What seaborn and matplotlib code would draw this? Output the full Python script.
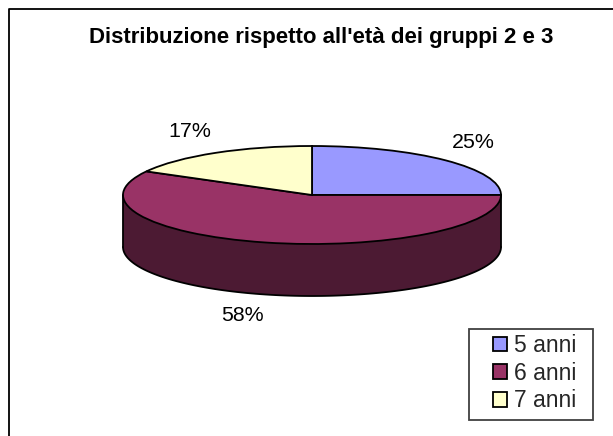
'''Tilted 3D-look pie: age distribution of groups 2 and 3'''
import numpy as np
import seaborn as sns
import matplotlib.pyplot as plt
from matplotlib.patches import Rectangle

labels = ['5 anni', '6 anni', '7 anni']
values = [25, 58, 17]
pct_labels = ['25%', '58%', '17%']
colors = ['#9999FF', '#993366', '#FFFFCC']
side_colors = ['#4D4D80', '#4C1A33', '#808066']
title = "Distribuzione rispetto all'età dei gruppi 2 e 3"

W, H = 613, 436
CX, CY, RX, RY, DEPTH = 312, 195, 189, 49, 52

sns.set_theme(style='white')
plt.rcParams['font.family'] = ['Liberation Sans', 'DejaVu Sans']

fig = plt.figure(figsize=(W / 100, H / 100), dpi=100)
fig.patch.set_facecolor('white')

# outer chart border, open at the bottom and right like the source
fig.add_artist(plt.Line2D([8.5 / W, 8.5 / W, 1], [0, 1 - 9.5 / H, 1 - 9.5 / H],
                          color='black', lw=1.3))

# axes in unit-circle coords, squashed to the ellipse
ax = fig.add_axes([(CX - RX) / W, 1 - (CY + RY) / H, 2 * RX / W, 2 * RY / H])
ax.set_axis_off()

# side wall: only the part of each slice in the lower half shows
d = DEPTH / RY
angle = 90.0
for val, side in zip(values, side_colors):
    end = angle - val * 3.6
    lo, hi = max(end, -180.0), min(angle, 0.0)
    if hi > lo:
        t = np.radians(np.linspace(lo, hi, 120))
        xs = np.r_[np.cos(t), np.cos(t[::-1])]
        ys = np.r_[np.sin(t), np.sin(t[::-1]) - d]
        ax.fill(xs, ys, color=side, clip_on=False, zorder=1, lw=0)
        ax.plot(np.cos(t), np.sin(t) - d, color='black', lw=1.3, clip_on=False, zorder=2)
    angle = end
ax.plot([-1, -1], [0, -d], color='black', lw=1.3, clip_on=False, zorder=2)
ax.plot([1, 1], [0, -d], color='black', lw=1.3, clip_on=False, zorder=2)

wedges, _ = ax.pie(values, colors=colors, startangle=90, counterclock=False,
                   radius=1, normalize=True,
                   wedgeprops={'edgecolor': 'black', 'linewidth': 1.3, 'zorder': 3})
ax.set_aspect('auto')
ax.set_xlim(-1, 1)
ax.set_ylim(-1, 1)
for w in wedges:
    w.set_clip_on(False)

fig.text(321.5 / W, 1 - 38 / H, title, ha='center', va='center',
         fontsize=16.05, fontweight='bold', color='black')

for txt, px, py in zip(pct_labels, [473, 242, 190], [142, 315, 131]):
    fig.text(px / W, 1 - py / H, txt, ha='center', va='center', fontsize=15.4, color='black')

# legend box is drawn separately, the source has a wide left margin
fig.add_artist(Rectangle((469 / W, 1 - 420 / H), 124 / W, 91 / H, transform=fig.transFigure,
                         facecolor='white', edgecolor='#404040', lw=1.3))
leg = fig.legend(wedges, labels, loc='upper left',
                 bbox_to_anchor=(493 / W, 1 - 334 / H), bbox_transform=fig.transFigure,
                 fontsize=16.5, frameon=False, borderpad=0, labelspacing=0.2,
                 handlelength=0.62, handleheight=0.62, handletextpad=0.3, borderaxespad=0)
for h in leg.legend_handles:
    h.set_edgecolor('black')
    h.set_linewidth(1.3)

fig.savefig('out.png', dpi=100)
